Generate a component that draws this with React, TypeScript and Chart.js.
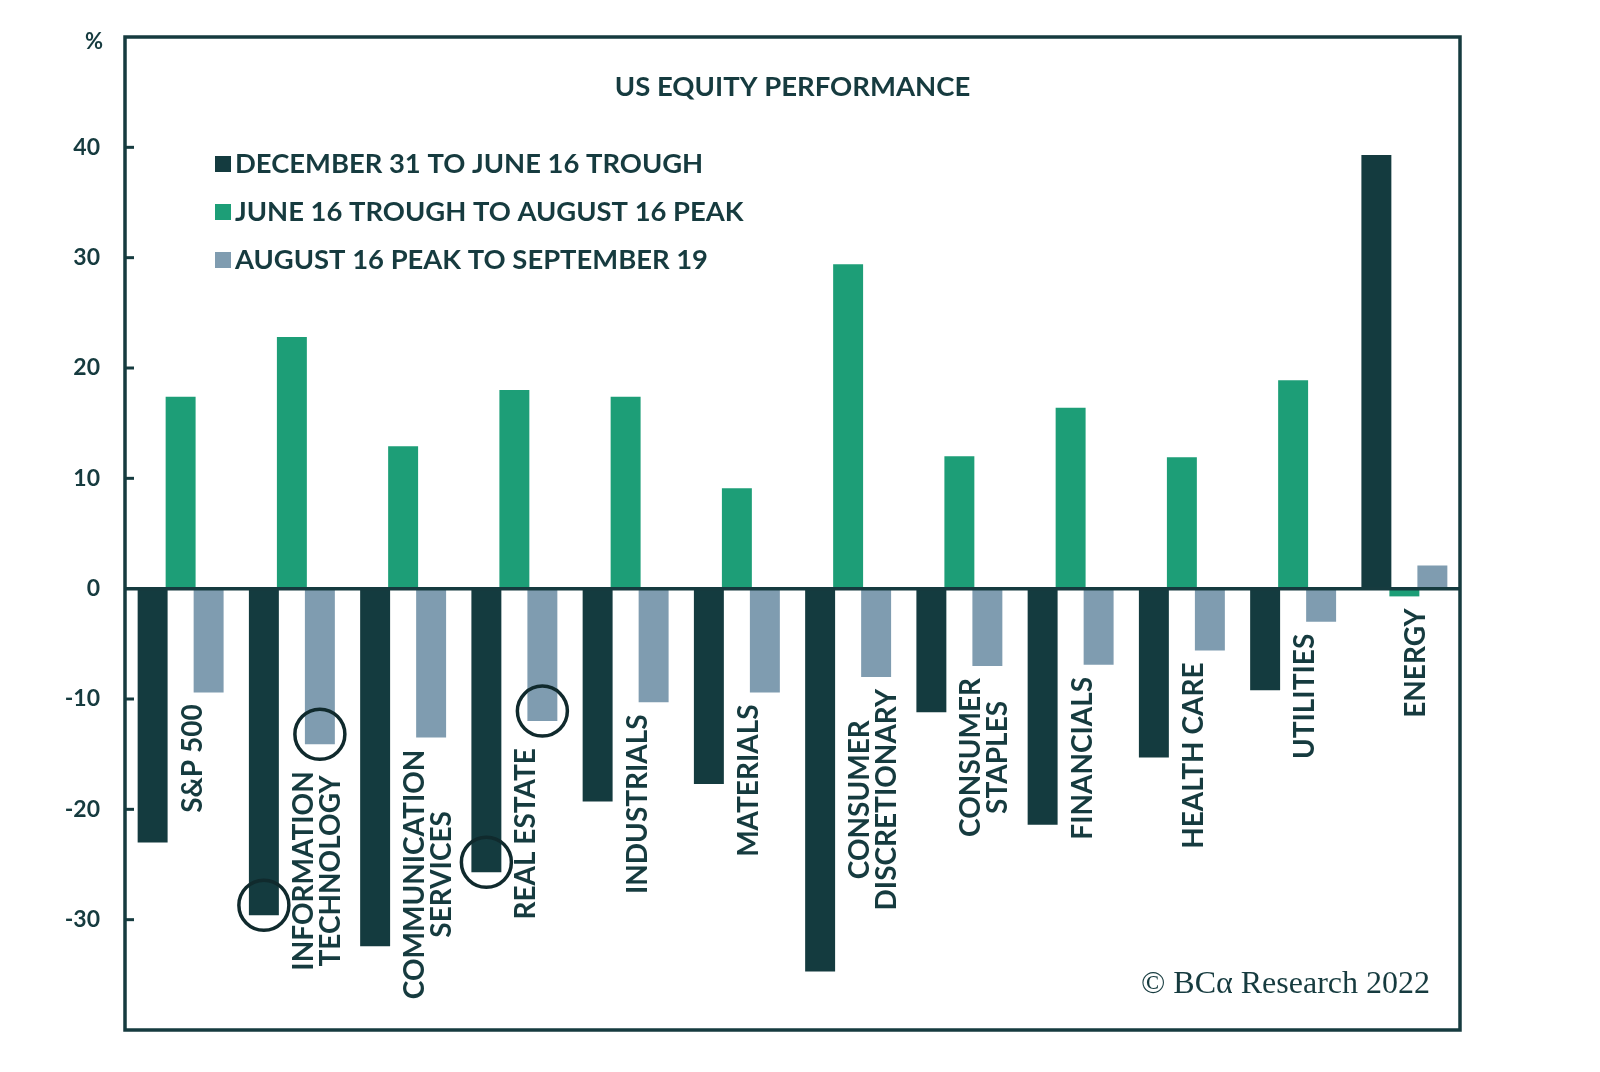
import React, { useEffect, useRef } from "react";
import { Chart, registerables } from "chart.js";

Chart.register(...registerables);

const categories: string[][] = [
  ["S&P 500"],
  ["INFORMATION", "TECHNOLOGY"],
  ["COMMUNICATION", "SERVICES"],
  ["REAL ESTATE"],
  ["INDUSTRIALS"],
  ["MATERIALS"],
  ["CONSUMER", "DISCRETIONARY"],
  ["CONSUMER", "STAPLES"],
  ["FINANCIALS"],
  ["HEALTH CARE"],
  ["UTILITIES"],
  ["ENERGY"],
];

const decToJune = [-23.0, -29.6, -32.4, -25.7, -19.3, -17.7, -34.7, -11.2, -21.4, -15.3, -9.2, 39.3];
const juneToAug = [17.4, 22.8, 12.9, 18.0, 17.4, 9.1, 29.4, 12.0, 16.4, 11.9, 18.9, -0.7];
const augToSep = [-9.4, -14.1, -13.5, -12.0, -10.3, -9.4, -8.0, -7.0, -6.9, -5.6, -3.0, 2.1];

const seriesLabels = [
  "DECEMBER 31 TO JUNE 16 TROUGH",
  "JUNE 16 TROUGH TO AUGUST 16 PEAK",
  "AUGUST 16 PEAK TO SEPTEMBER 19",
];

const yTickMarks = [-30, -20, -10, 10, 20, 30, 40];
const circledCategories = [1, 3];
const circledSeries = [0, 2];

const titleText = "US EQUITY PERFORMANCE";
const unitText = "%";
const sourceText = "\u00A9 BC\u03B1 Research 2022";

const INK = "#163b3f";
const DARK = "#143b3f";
const GREEN = "#1d9e77";
const GRAY = "#7f9cb0";
const CIRCLE = "#102a2d";
const FONT = "Lato";

const decorPlugin = {
  id: "decor",
  afterDatasetsDraw(chart: any) {
    const { ctx, chartArea: a, scales } = chart;
    const y = scales.y;
    const x = scales.x;
    ctx.save();
    const y0 = y.getPixelForValue(0);

    // zero line
    ctx.strokeStyle = INK;
    ctx.lineWidth = 3.5;
    ctx.beginPath();
    ctx.moveTo(a.left, y0);
    ctx.lineTo(a.right, y0);
    ctx.stroke();

    // frame
    ctx.lineWidth = 3.5;
    ctx.strokeRect(a.left, a.top, a.right - a.left, a.bottom - a.top);

    // inward tick marks
    ctx.lineWidth = 3;
    for (const v of yTickMarks) {
      const py = y.getPixelForValue(v);
      ctx.beginPath();
      ctx.moveTo(a.left, py);
      ctx.lineTo(a.left + 9, py);
      ctx.stroke();
    }

    // circles
    ctx.strokeStyle = CIRCLE;
    ctx.lineWidth = 3.5;
    for (const ci of circledCategories) {
      for (const si of circledSeries) {
        const el: any = chart.getDatasetMeta(si).data[ci];
        const dir = el.y > el.base ? -1 : 1;
        ctx.beginPath();
        ctx.arc(el.x, el.y + dir * 10, 25, 0, Math.PI * 2);
        ctx.stroke();
      }
    }

    // category labels (rotated)
    ctx.fillStyle = INK;
    ctx.font = `bold 28px ${FONT}`;
    categories.forEach((lines, i) => {
      const cx = x.getPixelForValue(i);
      const ys = [y0, chart.getDatasetMeta(1).data[i].y, chart.getDatasetMeta(2).data[i].y];
      const anchor = Math.max(...ys) + (circledCategories.includes(i) ? 27 : 12);
      const maxW = Math.max(...lines.map((l) => ctx.measureText(l).width));
      ctx.save();
      ctx.translate(cx + 12, anchor);
      ctx.rotate(-Math.PI / 2);
      ctx.textAlign = "center";
      ctx.textBaseline = "middle";
      lines.forEach((l, j) => ctx.fillText(l, -maxW / 2, j * 27));
      ctx.restore();
    });

    // unit label
    ctx.font = `bold 22px ${FONT}`;
    ctx.textAlign = "right";
    ctx.textBaseline = "middle";
    ctx.fillText(unitText, a.left - 22, a.top + 5);

    // title
    ctx.font = `bold 27.5px ${FONT}`;
    ctx.textAlign = "center";
    ctx.textBaseline = "middle";
    ctx.fillText(titleText, (a.left + a.right) / 2, a.top + 50);

    // legend
    const colors = [DARK, GREEN, GRAY];
    ctx.font = `bold 27.4px ${FONT}`;
    ctx.textAlign = "left";
    seriesLabels.forEach((s, i) => {
      const ry = a.top + 127 + i * 48;
      ctx.fillStyle = colors[i];
      ctx.fillRect(a.left + 90, ry - 8, 16, 16);
      ctx.fillStyle = INK;
      ctx.fillText(s, a.left + 110, ry);
    });

    // source
    ctx.font = `32px "Liberation Serif"`;
    ctx.textAlign = "right";
    ctx.textBaseline = "alphabetic";
    ctx.fillText(sourceText, a.right - 30, a.bottom - 37);
    ctx.restore();
  },
};

export default function App() {
  const ref = useRef<HTMLCanvasElement | null>(null);
  useEffect(() => {
    if (!ref.current) return;
    const chart = new Chart(ref.current, {
      type: "bar",
      data: {
        labels: categories.map((c) => c.join(" ")),
        datasets: [
          { label: seriesLabels[0], data: decToJune, backgroundColor: DARK },
          { label: seriesLabels[1], data: juneToAug, backgroundColor: GREEN },
          { label: seriesLabels[2], data: augToSep, backgroundColor: GRAY },
        ],
      },
      options: {
        responsive: false,
        animation: false,
        devicePixelRatio: 1,
        layout: { padding: { left: 0, top: 37, right: 140, bottom: 42 } },
        datasets: { bar: { categoryPercentage: 0.755, barPercentage: 1.07 } },
        plugins: { legend: { display: false }, tooltip: { enabled: false }, title: { display: false } },
        scales: {
          x: { display: false, grid: { display: false } },
          y: {
            min: -40,
            max: 50,
            afterFit: (axis: any) => {
              axis.width = 125;
            },
            grid: { display: false },
            border: { display: false },
            ticks: {
              stepSize: 10,
              padding: 17,
              color: INK,
              font: { family: FONT, size: 23, weight: "bold" },
              callback: (v: any) => (v === 50 || v === -40 ? "" : String(v)),
            },
          },
        },
      },
      plugins: [decorPlugin],
    } as any);
    return () => chart.destroy();
  }, []);
  return (
    <div style={{ position: "absolute", left: 0, top: 0, width: 1600, height: 1072, background: "#fff" }}>
      <canvas ref={ref} width={1600} height={1072} style={{ width: 1600, height: 1072 }} />
    </div>
  );
}
